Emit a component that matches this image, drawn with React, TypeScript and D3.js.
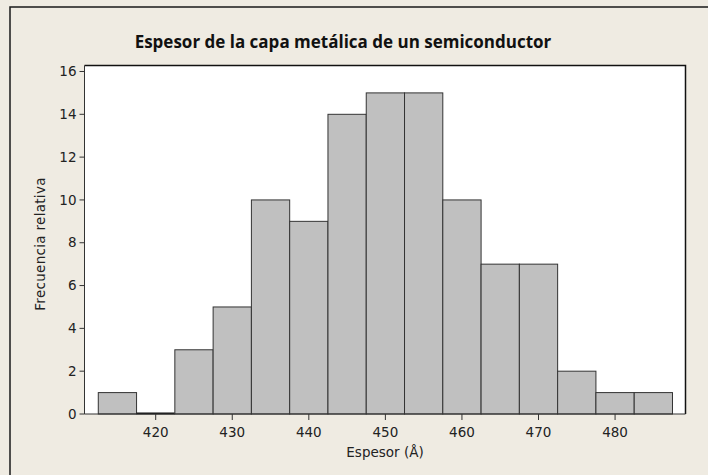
import React from 'react';
import * as d3 from 'd3';

const binStarts = [412.5, 417.5, 422.5, 427.5, 432.5, 437.5, 442.5, 447.5, 452.5, 457.5, 462.5, 467.5, 472.5, 477.5, 482.5];
const counts = [1, 0, 3, 5, 10, 9, 14, 15, 15, 10, 7, 7, 2, 1, 1];
const binWidth = 5;
const xTicks = [420, 430, 440, 450, 460, 470, 480];
const yTicks = [0, 2, 4, 6, 8, 10, 12, 14, 16];

const W = 708;
const H = 475;
const plot = { left: 84.5, top: 65.5, right: 685.5, bottom: 414 };

export default function App() {
    const x = d3.scaleLinear().domain([410.7, 489.2]).range([plot.left, plot.right]);
    const y = d3.scaleLinear().domain([0, 16.28]).range([plot.bottom, plot.top]);

    const tickFont = '"DejaVu Sans", sans-serif';

    return (
        <svg width={W} height={H} style={{ position: 'absolute', left: 0, top: 0 }}>
            <rect x={0} y={0} width={W} height={H} fill="#EFEBE2" />
            <rect x={10} y={7} width={W + 20} height={H + 20} fill="none" stroke="#1a1a1a" strokeWidth={1.5} />

            <text x={343} y={48} textAnchor="middle" fontFamily='"Open Sans", sans-serif'
                  fontWeight="bold" fontSize={17} fill="#111">
                Espesor de la capa metálica de un semiconductor
            </text>

            {/* plot area */}
            <rect x={plot.left} y={plot.top} width={plot.right - plot.left} height={plot.bottom - plot.top}
                  fill="#fff" />
            <path d={`M${plot.left},${plot.top}H${plot.right}V${plot.bottom}`} fill="none" stroke="#111" strokeWidth={1.5} />

            {/* bars */}
            {binStarts.map((b, i) => (
                counts[i] > 0 ? (
                    <rect key={i} x={x(b)} y={y(counts[i])} width={x(b + binWidth) - x(b)}
                          height={y(0) - y(counts[i])} fill="#C0C0C0" stroke="#333" strokeWidth={1} />
                ) : (
                    <line key={i} x1={x(b)} x2={x(b + binWidth)} y1={y(0) - 0.5} y2={y(0) - 0.5}
                          stroke="#111" strokeWidth={2} />
                )
            ))}

            {/* axes */}
            <line x1={plot.left} x2={plot.left} y1={plot.top} y2={plot.bottom} stroke="#333" strokeWidth={1} />
            <line x1={plot.left} x2={plot.right} y1={plot.bottom} y2={plot.bottom} stroke="#333" strokeWidth={1} />

            {yTicks.map(t => (
                <g key={t} transform={`translate(${plot.left},${y(t)})`}>
                    <line x1={-5} x2={0} stroke="#333" />
                    <text x={-8} dy="0.35em" textAnchor="end" fontFamily={tickFont} fontSize={13.5} fill="#222">{t}</text>
                </g>
            ))}
            {xTicks.map(t => (
                <g key={t} transform={`translate(${x(t)},${plot.bottom})`}>
                    <line y1={0} y2={6} stroke="#333" />
                    <text y={22.5} textAnchor="middle" fontFamily={tickFont} fontSize={13.5} fill="#222">{t}</text>
                </g>
            ))}

            <text x={385} y={457} textAnchor="middle" fontFamily={tickFont} fontSize={13.5} fill="#222">Espesor (Å)</text>
            <text transform="translate(45,244) rotate(-90)" textAnchor="middle"
                  fontFamily={tickFont} fontSize={13.5} letterSpacing={0.3} fill="#222">Frecuencia relativa</text>
        </svg>
    );
}
